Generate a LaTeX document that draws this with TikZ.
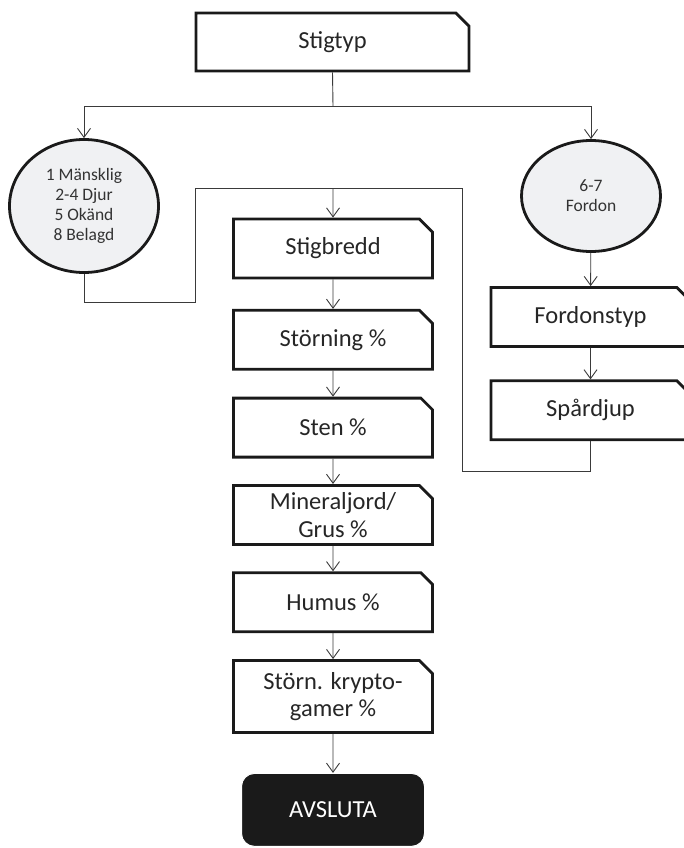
\documentclass[tikz,border=0pt]{standalone}
\usepackage{fontspec}
\setmainfont{Carlito}
\usetikzlibrary{shapes.geometric, shapes.misc, arrows.meta, positioning}

\definecolor{boxline}{HTML}{1A1A1A}
\definecolor{ovalfill}{HTML}{F0F1F3}
\definecolor{wireclr}{HTML}{3A3A3A}

\begin{document}
\begin{tikzpicture}[
    x=1pt, y=-1pt,
    node distance=26pt,
    fieldbox/.style={chamfered rectangle, chamfered rectangle corners=north east,
                chamfered rectangle xsep=10pt, draw=boxline, line width=2.8pt, fill=white,
                minimum width=199pt, minimum height=59pt, inner sep=0pt, align=center,
                text=black!85, font=\fontsize{24.5}{27.5}\selectfont},
    choice/.style={ellipse, draw=boxline, line width=2.8pt, fill=ovalfill,
                inner sep=0pt, align=center, text=black!80,
                font=\fontsize{17.5}{20}\selectfont},
    endbox/.style={rectangle, rounded corners=13pt, fill=boxline, draw=white, line width=1pt,
                minimum width=183pt, minimum height=73pt, text=white,
                font=\fontsize{24.5}{28}\selectfont},
    arr/.style={-{Straight Barb[length=9pt, width=13pt]}, draw=wireclr, line width=0.9pt},
    wire/.style={draw=wireclr, line width=0.9pt},
]
    \useasboundingbox (0,0) rectangle (684,848);

    % top
    \node[fieldbox, minimum width=273pt, minimum height=58pt] (stigtyp) at (332.5,42) {Stigtyp};
    \node[choice, minimum width=149pt, minimum height=133pt] (manual) at (84,206)
        {1 Mänsklig\\2-4 Djur\\5 Okänd\\8 Belagd};
    \node[choice, minimum width=139pt, minimum height=111pt] (vehicle) at (591,196)
        {6-7\\Fordon};

    % main column
    \node[fieldbox] (bredd) at (333,248.5) {Stigbredd};
    \node[fieldbox, below=29.5pt of bredd] (storning) {Störning \%};
    \node[fieldbox, below=of storning]    (sten)     {Sten \%};
    \node[fieldbox, below=25.5pt of sten] (mineral)  {Mineraljord/\\Grus \%};
    \node[fieldbox, below=25.5pt of mineral] (humus) {Humus \%};
    \node[fieldbox, minimum height=72pt, below=of humus] (krypto) {Störn. krypto-\\gamer \%};
    \node[endbox, below=39pt of krypto]   (avsluta)  {AVSLUTA};

    % vehicle column
    \node[fieldbox] (fordonstyp) at (590.5,317) {Fordonstyp};
    \node[fieldbox, below=31.5pt of fordonstyp] (spardjup) {Spårdjup};

    \coordinate (split) at (333,106);
    \coordinate (join)  at (333,188);

    \draw[wire] (stigtyp.south) -- (split);
    \draw[arr] (split) -| (manual.north);
    \draw[arr] (split) -| (vehicle.north);

    \draw[wire] (manual.south) |- (195,302) |- (join);
    \draw[wire] (spardjup.south) |- (462,471) |- (join);
    \draw[arr] (join) -- (bredd);

    \draw[arr] (bredd)    -- (storning);
    \draw[arr] (storning) -- (sten);
    \draw[arr] (sten)     -- (mineral);
    \draw[arr] (mineral)  -- (humus);
    \draw[arr] (humus)    -- (krypto);
    \draw[arr] (krypto)   -- (avsluta);

    \draw[arr] (vehicle)    -- (fordonstyp);
    \draw[arr] (fordonstyp) -- (spardjup);
\end{tikzpicture}
\end{document}
